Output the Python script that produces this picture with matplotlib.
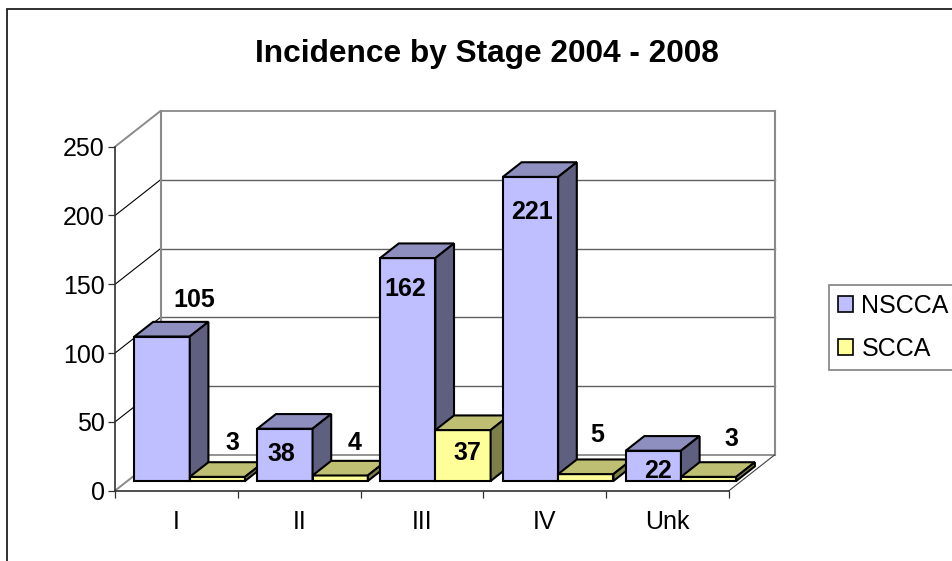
import matplotlib
matplotlib.use("Agg")
import matplotlib.pyplot as plt
from matplotlib.patches import Patch, Rectangle

plt.rcParams['font.family'] = ['Liberation Sans', 'DejaVu Sans']

title = "Incidence by Stage 2004 - 2008"
categories = ["I", "II", "III", "IV", "Unk"]
nscca = [105, 38, 162, 221, 22]
scca = [3, 4, 37, 5, 3]
y_ticks = [0, 50, 100, 150, 200, 250]

# label nudges from the top-centre of each bar front, in pixels (x right, y up)
nscca_nudge = [(32, 37), (-4, -25), (-2, -31), (1, -35), (5, -20)]
scca_nudge = [(15, 34), (14, 32), (4, -23), (11, 39), (23, 38)]

W, H = 952, 561
fig = plt.figure(figsize=(W / 100, H / 100), dpi=100, facecolor='white')

# front plane of the plot box, px
L, R, B, T = 115, 729, 490.7, 146.7
ax = fig.add_axes([L / W, 1 - B / H, (R - L) / W, (B - T) / H], facecolor='none')
ax.set_xlim(0, len(categories))
ax.set_ylim(0, 250)

# depth of box expressed in data units
DX = 45.5 / ((R - L) / len(categories))
DY = 35.7 / ((B - T) / 250)
BAR_Z0, BAR_Z1 = 0.272, 0.272 + 0.41
BAR_START, BAR_W = 0.058, 0.45


def proj(x, y, z):
    return x + z * DX, y + z * DY


GRID = '#606060'
EDGE = '#8a8a8a'
# walls
for v in y_ticks:
    x0, y0 = proj(0, v, 0)
    x1, y1 = proj(0, v, 1)
    x2, y2 = proj(len(categories), v, 1)
    edge = v in (0, 250)
    ax.plot([x0, x1], [y0, y1], color=EDGE if edge else 'black', lw=1.4 if edge else 0.8,
            clip_on=False, zorder=1, solid_capstyle='butt')
    ax.plot([x1, x2], [y1, y2], color=EDGE if edge else GRID, lw=1.3 if edge else 1.0,
            clip_on=False, zorder=1)
for n in (0, len(categories)):
    xs, ys = zip(proj(n, 0, 1), proj(n, 250, 1))
    ax.plot(xs, ys, color=EDGE, lw=1.5, clip_on=False, zorder=1)
xs, ys = zip(proj(len(categories), 0, 0), proj(len(categories), 0, 1))
ax.plot(xs, ys, color='#404040', lw=0.8, clip_on=False, zorder=1)


def draw_bar(x, v, front, top, side):
    z0, z1 = BAR_Z0, BAR_Z1
    fx, fy = proj(x, 0, z0)
    ax.bar(fx, v, BAR_W, bottom=fy, align='edge', color=front, edgecolor='black',
           lw=1.5, clip_on=False, zorder=3)
    top_pts = [proj(x, v, z0), proj(x + BAR_W, v, z0), proj(x + BAR_W, v, z1), proj(x, v, z1)]
    side_pts = [proj(x + BAR_W, 0, z0), proj(x + BAR_W, v, z0), proj(x + BAR_W, v, z1), proj(x + BAR_W, 0, z1)]
    for pts, c in ((top_pts, top), (side_pts, side)):
        ax.fill(*zip(*pts), facecolor=c, edgecolor='black', lw=1.5, clip_on=False, zorder=3,
                joinstyle='miter')
    return fx + BAR_W / 2, fy + v


def label(pos, v, nudge):
    ax.annotate(str(v), xy=pos, xytext=nudge, textcoords='offset pixels', ha='center', va='center',
                fontsize=18, fontweight='bold', color='black', zorder=5, annotation_clip=False)


NS = ('#BFBFFF', '#8F8FBF', '#5F5F7F')
SC = ('#FFFF99', '#BFBF73', '#7F7F4C')
positions = []
for i in range(len(categories)):
    a = draw_bar(i + BAR_START, nscca[i], *NS)
    b = draw_bar(i + BAR_START + BAR_W, scca[i], *SC)
    positions.append((a, b))
for i, (a, b) in enumerate(positions):
    label(a, nscca[i], nscca_nudge[i])
    label(b, scca[i], scca_nudge[i])

# axes
for s in ('top', 'right'):
    ax.spines[s].set_visible(False)
for s in ('left', 'bottom'):
    ax.spines[s].set_linewidth(1.2)
    ax.spines[s].set_color('#303030')
ax.set_yticks(y_ticks)
ax.tick_params(axis='y', labelsize=18, length=5, width=0.9, pad=2.5, color='#303030')
ax.set_xticks(range(len(categories) + 1))
ax.set_xticklabels([])
ax.set_xticks([i + 0.5 for i in range(len(categories))], minor=True)
ax.set_xticklabels(categories, minor=True)
ax.tick_params(axis='x', which='major', length=5, width=0.9, color='#303030')
ax.tick_params(axis='x', which='minor', length=0, labelsize=18, pad=14)

# title, frame, legend
fig.text(487 / W, 1 - 54 / H, title, ha='center', va='center', fontsize=22.8, fontweight='bold')
fig.add_artist(Rectangle((7 / W, 1 - 620 / H), (1000 - 7) / W, (620 - 9) / H, transform=fig.transFigure,
                         facecolor='none', edgecolor='#202020', lw=1.3))
handles = [Patch(facecolor=NS[0], edgecolor='black', lw=1.2), Patch(facecolor=SC[0], edgecolor='black', lw=1.2)]
leg = fig.legend(handles, ["NSCCA", "SCCA"], loc='upper left', bbox_to_anchor=(828.7 / W, 1 - 285 / H),
                 fontsize=18, frameon=True, fancybox=False, edgecolor='#808080', framealpha=1,
                 borderaxespad=0, borderpad=0.36, handlelength=0.6, handleheight=0.6, handletextpad=0.35,
                 labelspacing=0.74)
leg.get_frame().set_linewidth(1.2)

fig.savefig('out.png', dpi=100)
